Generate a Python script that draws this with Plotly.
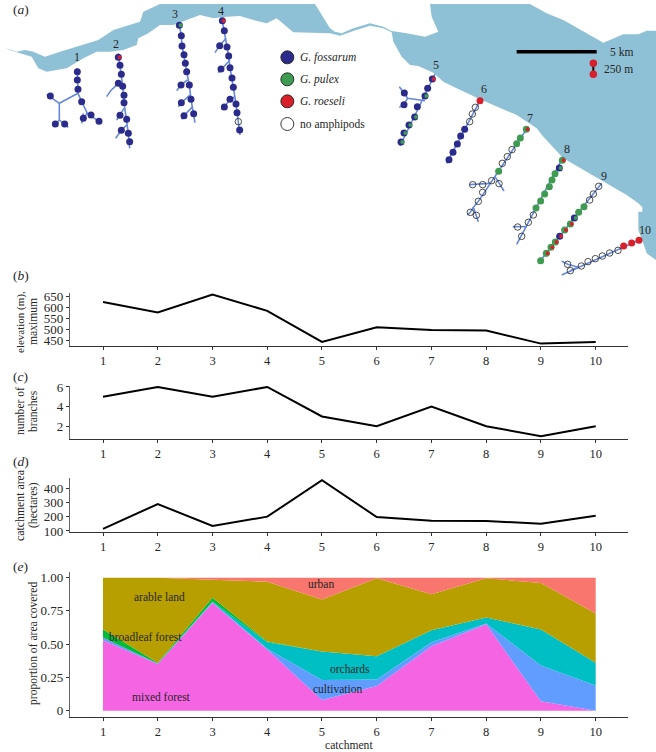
import plotly.graph_objects as go

W, H = 656, 752
SERIF = "Liberation Serif"
INK = "#262626"

catchment = [1, 2, 3, 4, 5, 6, 7, 8, 9, 10]
elevation = [625, 578, 660, 585, 443, 510, 497, 495, 435, 442]
branches = [5, 6, 5, 6, 3, 2, 4, 2, 1, 2]
area_ha = [115, 288, 135, 200, 455, 197, 172, 170, 150, 207]

mixed = [.53, .35, .81, .46, .08, .185, .485, .65, .07, 0]
cultivation = [.02, .005, .005, .005, .15, .05, .03, .005, .27, .19]
orchards = [0, 0, .005, .05, .215, .175, .09, .045, .27, .17]
broadleaf = [.06, .005, .03, .005, 0, 0, 0, 0, 0, 0]
arable = [.39, .64, .135, .45, .39, .585, .27, .295, .35, .37]
urban = [0, 0, .015, .03, .165, .005, .125, .005, .04, .27]

# Map outline and streams: map units are thirds of a pixel
water_north = [(0,135),(20,145),(50,155),(75,150),(100,155),(135,170),(180,155),(230,140),(295,120),(340,90),
         (400,70),(420,65),(430,35),(480,12),(945,12),(960,35),(975,60),(990,85),(1005,95),(1025,100),(1060,85),(1110,70),
         (1150,80),(1175,93),(1220,100),(1275,110),(1315,95),(1295,50),(1290,12),(1590,12),(1640,40),(1690,60),
         (1760,100),(1810,128),(1870,103),(1915,103),(1940,92),(1968,92)]
water_south = [(1968,780),(1940,760),(1930,730),(1915,690),(1915,635),(1927,635),(1927,622),(1915,610),(1880,585),
         (1810,545),(1750,510),(1690,475),(1630,410),(1610,385),(1550,345),(1480,315),(1440,298),(1370,265),
         (1330,245),(1300,218),(1255,198),(1230,195),(1205,170),(1180,125),(1175,97),(1150,85),(1110,77),
         (1060,93),(1020,107),(990,100),(880,97),(830,55),(800,70),(760,60),(720,48),(680,50),(640,55),
         (600,45),(560,60),(520,75),(480,75),(445,100),(415,115),(410,135),(370,150),(330,155),(290,155),(250,175),
         (200,205),(140,215),(115,205),(95,170),(60,160),(30,150),(0,135)]
water_x = [p[0] for p in water_north + water_south]
water_y = [p[1] for p in water_north + water_south]

edges = [
    [(232,205),(234,280),(245,305),(262,340),(305,370)], [(250,340),(245,370)], [(262,340),(250,355)],
    [(234,280),(178,310),(140,283)], [(178,310),(178,360),(160,380)], [(178,360),(205,382)],
    [(355,160),(360,196),(364,223),(368,259),(372,308),(380,358),(385,400),(389,445)],
    [(368,259),(355,250),(332,272),(320,290)], [(372,325),(360,346),(350,360)], [(380,375),(364,391),(347,415)],
    [(538,76),(544,107),(546,138),(552,164),(556,190),(560,215),(568,255),(573,298),(581,341),(585,368)],
    [(562,240),(543,255),(530,272)], [(570,285),(544,308),(535,320)], [(578,320),(552,347),(545,358)],
    [(667,62),(673,92),(681,141),(686,168),(690,203),(696,234),(700,262),(708,312),(711,338),(720,405)],
    [(678,115),(659,137),(645,158)], [(690,180),(663,207),(655,218)], [(705,290),(690,298),(673,321),(665,330)],
    [(1305,222),(1200,438)], [(1275,302),(1223,295),(1198,260)], [(1223,295),(1212,312),(1198,322)],
    [(1440,302),(1340,490)],
    [(1585,380),(1435,604),(1420,622),(1435,665)], [(1470,550),(1408,554)], [(1485,530),(1497,551),(1512,573)],
    [(1420,622),(1411,637),(1402,645)],
    [(1690,470),(1580,680),(1565,709),(1550,733)], [(1580,680),(1538,680)],
    [(1805,550),(1615,790)],
    [(1925,717),(1744,798),(1685,825)], [(1735,802),(1703,793),(1685,784)], [(1735,802),(1711,812)],
]
edge_x, edge_y = [], []
for line in edges:
    edge_x += [p[0] for p in line] + [None]
    edge_y += [p[1] for p in line] + [None]

# Sampling sites: (x, y, main species, other species present)
sites = [
    (232,215,"f",""),(232,240,"f",""),(234,268,"f",""),(245,305,"f",""),(250,355,"f",""),(273,345,"f",""),
    (297,364,"f",""),(151,288,"f",""),(166,372,"f",""),(194,372,"f",""),
    (355,172,"f","r"),(360,196,"f",""),(364,223,"f",""),(355,250,"f",""),(368,259,"f",""),(372,286,"f",""),
    (372,308,"f",""),(360,346,"f",""),(380,358,"f",""),(364,391,"f",""),(385,400,"f",""),(389,425,"f",""),
    (538,76,"f","p"),(544,107,"f",""),(546,138,"f",""),(552,164,"f",""),(556,190,"f",""),(560,215,"f",""),
    (568,255,"f",""),(543,255,"f",""),(573,298,"f",""),(544,308,"f",""),(581,341,"f",""),(552,347,"f",""),
    (667,62,"f","r"),(673,92,"f",""),(681,141,"f",""),(659,137,"f",""),(686,168,"f",""),(663,207,"f",""),
    (690,203,"f",""),(696,234,"f",""),(700,262,"f",""),(690,298,"f",""),(673,321,"f",""),(708,312,"f",""),
    (711,338,"f",""),(715,365,"n",""),(719,390,"f",""),
    (1297,237,"f","r"),(1283,265,"f",""),(1275,288,"f","p"),(1252,320,"f",""),(1244,351,"f","p"),(1227,375,"f","p"),
    (1212,399,"f","p"),(1203,426,"f","p"),(1213,279,"f",""),(1212,314,"f",""),
    (1440,302,"r",""),(1426,322,"n",""),(1417,342,"n",""),(1409,365,"n",""),(1394,388,"f",""),(1382,408,"f",""),
    (1372,432,"f",""),(1359,457,"f",""),(1347,479,"f",""),
    (1579,388,"p","r"),(1561,414,"p",""),(1550,431,"p",""),(1536,449,"n",""),(1522,470,"n",""),(1507,490,"n",""),
    (1496,514,"p",""),(1475,542,"n",""),(1448,554,"n",""),(1418,554,"n",""),(1497,551,"n",""),(1448,577,"n",""),
    (1435,604,"n",""),(1411,637,"n",""),(1429,646,"n",""),
    (1687,481,"p","r"),(1678,504,"f","p"),(1665,521,"p",""),(1656,540,"p",""),(1648,560,"p",""),(1634,582,"p",""),
    (1622,603,"p",""),(1608,624,"p",""),(1600,645,"n",""),(1585,667,"n",""),(1553,681,"n",""),(1565,709,"n",""),
    (1796,559,"n",""),(1780,582,"n",""),(1769,600,"n",""),(1752,620,"p",""),(1736,637,"p",""),(1723,654,"f","p"),
    (1711,672,"p","r"),(1694,690,"p","r"),(1679,709,"f","r"),(1666,726,"p","r"),(1653,742,"p","r"),(1639,760,"p","r"),
    (1622,782,"p",""),
    (1917,721,"r",""),(1895,729,"r",""),(1871,738,"r",""),(1854,751,"n",""),(1829,759,"n",""),(1807,768,"n",""),
    (1786,776,"n",""),(1764,785,"n",""),(1744,798,"n",""),(1711,812,"n",""),(1703,793,"n",""),
]
species_colour = {"f": "#2b2b8c", "p": "#3f9a52", "r": "#d8202a"}
catch_labels = ["1", "2", "3", "4", "5", "6", "7", "8", "9", "10"]
catch_label_x = [231, 349, 525, 663, 1308, 1452, 1590, 1701, 1812, 1935]
catch_label_y = [171, 131, 42, 32, 195, 268, 354, 447, 528, 690]
legend_names = ["<i>G. fossarum</i>", "<i>G. pulex</i>", "<i>G. roeseli</i>", "no amphipods"]
legend_keys = ["f", "p", "r", "n"]
legend_y = [172, 238, 304, 372]

fig = go.Figure()

# --- map (its axes span the whole page; all free text is placed on them too) ---
MAP = dict(xaxis="x", yaxis="y", showlegend=False, hoverinfo="skip")
fig.add_trace(go.Scatter(x=water_x, y=water_y, mode="lines", fill="toself", fillcolor="#8fc1d6",
                         line=dict(width=0), **MAP))
fig.add_trace(go.Scatter(x=edge_x, y=edge_y, mode="lines", line=dict(color="#6688d8", width=1.6), **MAP))
for key in "fpr":
    pts = [s for s in sites if s[2] == key]
    fig.add_trace(go.Scatter(x=[s[0] for s in pts], y=[s[1] for s in pts], mode="markers",
                             marker=dict(color=species_colour[key], size=7, line=dict(width=0)), **MAP))
for key in "pr":
    pts = [s for s in sites if s[3] == key]
    fig.add_trace(go.Scatter(x=[s[0] + 4 for s in pts], y=[s[1] for s in pts], mode="markers",
                             marker=dict(color=species_colour[key], size=4, line=dict(width=0)), **MAP))
pts = [s for s in sites if s[2] == "n"]
fig.add_trace(go.Scatter(x=[s[0] for s in pts], y=[s[1] for s in pts], mode="markers",
                         marker=dict(color="rgba(0,0,0,0)", size=6.5, line=dict(color="#222", width=0.8)), **MAP))
# map legend
for key, yv in zip(legend_keys, legend_y):
    fill = species_colour.get(key, "white")
    fig.add_trace(go.Scatter(x=[862], y=[yv], mode="markers",
                             marker=dict(color=fill, size=13, line=dict(color="#222", width=0.9)), **MAP))
# scale bars
fig.add_trace(go.Scatter(x=[1550, 1790], y=[155, 155], mode="lines", line=dict(color="black", width=3.5), **MAP))
fig.add_trace(go.Scatter(x=[1780, 1780], y=[190, 223], mode="lines+markers", line=dict(color="black", width=2),
                         marker=dict(color="#d8202a", size=7.5), **MAP))

# --- line panels ---
def panel_line(yvals, ax):
    fig.add_trace(go.Scatter(x=catchment, y=yvals, mode="lines", line=dict(color="black", width=2),
                             xaxis="x" + ax, yaxis="y" + ax, showlegend=False, hoverinfo="skip"))

panel_line(elevation, "2")
panel_line(branches, "3")
panel_line(area_ha, "4")

# --- stacked areas ---
for name, vals, col in [("mixed forest", mixed, "#F564E3"), ("cultivation", cultivation, "#619CFF"),
                        ("orchards", orchards, "#00BFC4"), ("broadleaf forest", broadleaf, "#00BA38"),
                        ("arable land", arable, "#B79F00"), ("urban", urban, "#F8766D")]:
    fig.add_trace(go.Scatter(x=catchment, y=vals, name=name, mode="lines", stackgroup="one", fillcolor=col,
                             line=dict(width=0, color=col), xaxis="x5", yaxis="y5", showlegend=False,
                             hoverinfo="skip"))

def dom_y(top, bottom):
    return [1 - bottom / H, 1 - top / H]

DX = [70 / W, 628 / W]
XR = [0.397, 10.59]

def xax(anchor):
    return dict(domain=DX, range=XR, anchor=anchor, tickmode="array", tickvals=catchment,
                ticktext=[str(c) for c in catchment], showgrid=False, zeroline=False, showline=True,
                linecolor="#333", linewidth=1, ticks="outside", ticklen=3, tickcolor="#333", tickwidth=1,
                automargin=False, tickfont=dict(family=SERIF, size=12.5, color=INK))

def yax(anchor, top, bottom, rng, vals, text):
    return dict(domain=dom_y(top, bottom), range=rng, anchor=anchor, tickmode="array", tickvals=vals, ticktext=text,
                showgrid=False, zeroline=False, showline=True, linecolor="#666", linewidth=1.4,
                ticks="outside", ticklen=3, tickcolor="#333", tickwidth=1,
                automargin=False, tickfont=dict(family=SERIF, size=13, color=INK))

fig.update_layout(
    width=W, height=H, margin=dict(l=0, r=0, t=0, b=0), paper_bgcolor="white", plot_bgcolor="rgba(0,0,0,0)",
    showlegend=False,
    xaxis=dict(domain=[0, 1], range=[0, W * 3], visible=False, fixedrange=True, automargin=False),
    yaxis=dict(domain=[0, 1], range=[H * 3, 0], visible=False, fixedrange=True, automargin=False),
    xaxis2=xax("y2"), yaxis2=yax("x2", 292.7, 346, [424, 668], [450, 500, 550, 600, 650], ["450", "500", "550", "600", "650"]),
    xaxis3=xax("y3"), yaxis3=yax("x3", 386, 438.7, [0.74, 6.1], [2, 4, 6], ["2", "4", "6"]),
    xaxis4=xax("y4"), yaxis4=yax("x4", 478, 531.7, [95, 470], [100, 200, 300, 400], ["100", "200", "300", "400"]),
    xaxis5=xax("y5"), yaxis5=yax("x5", 571.7, 717.3, [-0.05, 1.045], [0, .25, .5, .75, 1], ["0", "0.25", "0.50", "0.75", "1.00"]),
)

def note(x, y, text, size=12, angle=0, xanchor="center", color=INK):
    fig.add_annotation(xref="x", yref="y", x=x * 3, y=y * 3, text=text, showarrow=False,
                       textangle=angle, xanchor=xanchor, yanchor="middle",
                       font=dict(family=SERIF, size=size, color=color), align="center")

for label, xv, yv in zip(catch_labels, catch_label_x, catch_label_y):
    note(xv / 3, yv / 3, label, size=12)
for name, yv in zip(legend_names, legend_y):
    note(298, yv / 3, name, size=11.5, xanchor="left")
note(608, 51.5, "5 km", size=11.5, xanchor="left")
note(601.5, 69, "250 m", size=11.5, xanchor="left")

for lab, yv in zip("abcde", [9, 275, 376.5, 461.5, 566.5]):
    note(11, yv, f"(<i>{lab}</i>)", size=13.5, xanchor="left")

note(20, 322, "elevation (m),", size=11, angle=-90)
note(33, 322, "maximum", size=11.6, angle=-90)
note(20, 411, "number of", size=11.6, angle=-90)
note(33, 411, "branches", size=11.6, angle=-90)
note(20, 505, "catchment area", size=11.8, angle=-90)
note(33, 505, "(hectares)", size=11.6, angle=-90)
note(33, 644, "proportion of area covered", size=11.6, angle=-90)
note(349, 745, "catchment", size=11.6)

note(159, 597, "arable land", size=11.5)
note(145, 637, "broadleaf forest", size=11.5)
note(161, 697, "mixed forest", size=11.5)
note(321, 584, "urban", size=11.5)
note(350, 669, "orchards", size=11.5)
note(337, 689, "cultivation", size=11.5)

fig.write_html("out.html", config=dict(displayModeBar=False),
               post_script="document.body.style.margin='0';document.body.style.overflow='hidden';")
